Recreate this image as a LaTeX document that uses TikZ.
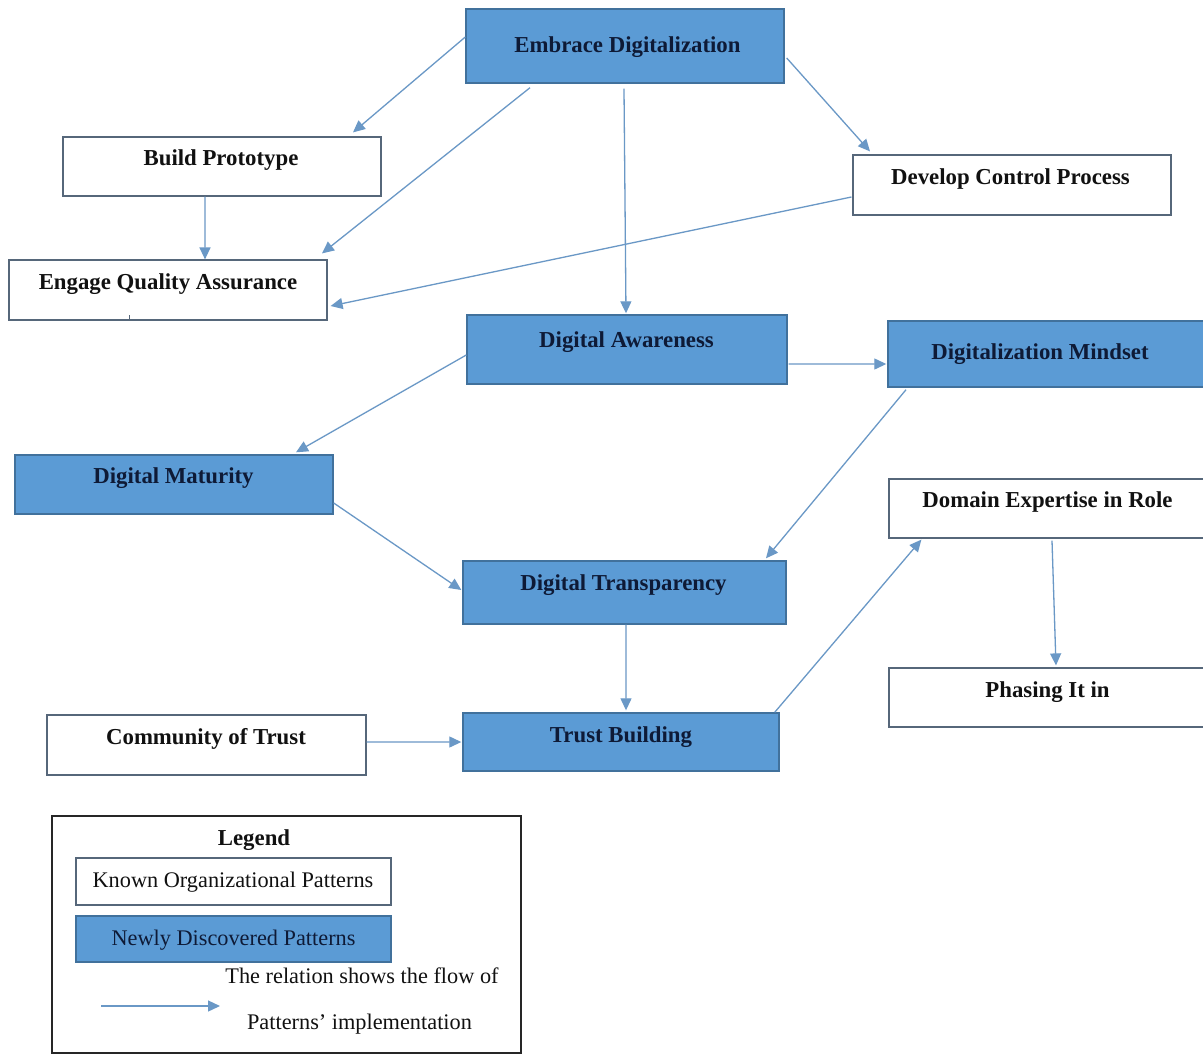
\documentclass[tikz,border=0pt]{standalone}
\usepackage{fontspec}
\setmainfont{Liberation Serif}
\usetikzlibrary{arrows.meta}
\definecolor{nfill}{HTML}{5B9BD5}
\definecolor{nborder}{HTML}{41719C}
\definecolor{kborder}{HTML}{56677A}
\definecolor{arr}{HTML}{6A98C6}
\definecolor{ntext}{HTML}{0E1A36}
\definecolor{ktext}{HTML}{111111}
\tikzset{
  newp/.style={draw=nborder, fill=nfill, line width=1.4bp, inner sep=0pt},
  known/.style={draw=kborder, fill=white, line width=1.2bp, inner sep=0pt},
  btxt/.style={font=\fontsize{22.8bp}{27bp}\selectfont\bfseries, text=ktext, inner sep=0pt, anchor=base},
  ntxt/.style={btxt, text=ntext},
  rtxt/.style={font=\fontsize{22.3bp}{27bp}\selectfont, text=ktext, inner sep=0pt, anchor=base},
  flow/.style={draw=arr, line width=1.3bp, -{Triangle[length=12bp,width=11bp]}},
}
\begin{document}
\begin{tikzpicture}[x=1bp, y=-1bp]
\useasboundingbox (0,0) rectangle (1203,1055);
\clip (0,0) rectangle (1203,1055);
\fill[white] (0,0) rectangle (1203,1055);

% boxes
\node[newp,  minimum width=318bp, minimum height=74bp] (emb)  at (625,46) {};
\node[known, minimum width=318bp, minimum height=59bp] (bp)   at (222,166.5) {};
\node[known, minimum width=318bp, minimum height=60bp] (dcp)  at (1012,185) {};
\node[known, minimum width=318bp, minimum height=60bp] (eqa)  at (168,290) {};
\node[newp,  minimum width=320bp, minimum height=69bp] (da)   at (627,349.5) {};
\node[newp,  minimum width=322bp, minimum height=66bp] (dm)   at (1049,354) {};
\node[newp,  minimum width=318bp, minimum height=59bp] (dmat) at (174,484.5) {};
\node[known, minimum width=321bp, minimum height=59bp] (dex)  at (1049.5,508.5) {};
\node[newp,  minimum width=323bp, minimum height=63bp] (dt)   at (624.5,592.5) {};
\node[known, minimum width=321bp, minimum height=59bp] (pii)  at (1049.5,697.5) {};
\node[known, minimum width=319bp, minimum height=60bp] (cot)  at (206.5,745) {};
\node[newp,  minimum width=316bp, minimum height=58bp] (tb)   at (621,742) {};

% box texts
\node[ntxt] (embT)  at (627.5,52.5)  {Embrace Digitalization};
\node[btxt] (bpT)   at (221,165.5)   {Build Prototype};
\node[btxt] (dcpT)  at (1010.5,184.5){Develop Control Process};
\node[btxt] (eqaT)  at (168,289.5)   {Engage Quality Assurance};
\node[ntxt] (daT)   at (626.5,347.5) {Digital Awareness};
\node[ntxt] (dmT)   at (1040,359.5)  {Digitalization Mindset};
\node[ntxt] (dmatT) at (173.5,483.5) {Digital Maturity};
\node[btxt] (dexT)  at (1047.5,507.5){Domain Expertise in Role};
\node[ntxt] (dtT)   at (623.5,590.5) {Digital Transparency};
\node[btxt] (piiT)  at (1047.5,697.5){Phasing It in};
\node[btxt] (cotT)  at (206,744.5)   {Community of Trust};
\node[ntxt] (tbT)   at (621,742.5)   {Trust Building};

% small stray tick under Engage Quality Assurance
\draw[kborder, line width=1bp] (129,315) -- (129,321);

% connectors
\draw[flow] ([yshift=9bp]emb.west) -- ([xshift=131bp,yshift=4bp]bp.north);
\draw[flow] ([xshift=-95bp,yshift=-4bp]emb.south) -- ([xshift=154bp,yshift=6bp]eqa.north);
\draw[flow] ([xshift=-1bp,yshift=-5bp]emb.south) -- ([xshift=-1bp,yshift=1bp]da.north);
\draw[flow] ([xshift=2bp,yshift=-12bp]emb.east) -- ([xshift=-142bp,yshift=3bp]dcp.north);
\draw[flow] ([xshift=-17bp]bp.south) -- ([xshift=37bp]eqa.north);
\draw[flow] ([xshift=-1bp,yshift=-12bp]dcp.west) -- ([xshift=3bp,yshift=-16bp]eqa.east);
\draw[flow] ([xshift=1bp,yshift=-14.5bp]da.east) -- ([xshift=-1bp,yshift=-10bp]dm.west);
\draw[flow] ([yshift=-5.5bp]da.west) -- ([xshift=122bp,yshift=2bp]dmat.north);
\draw[flow] ([yshift=-18.5bp]dmat.east) -- ([xshift=-1bp,yshift=2.5bp]dt.west);
\draw[flow] ([xshift=-143bp,yshift=-2bp]dm.south) -- ([xshift=141.5bp,yshift=2bp]dt.north);
\draw[flow] ([xshift=1.5bp]dt.south) -- ([xshift=5bp,yshift=2bp]tb.north);
\draw[flow] ([yshift=3bp]cot.east) -- ([xshift=-1bp]tb.west);
\draw[flow] ([xshift=-5bp]tb.north east) -- ([xshift=33bp,yshift=-1bp]dex.south west);
\draw[flow] ([xshift=2.5bp,yshift=-2bp]dex.south) -- ([xshift=6.5bp,yshift=2bp]pii.north);

% legend
\node[draw=black!85, line width=1.2bp, minimum width=469bp, minimum height=237bp, inner sep=0pt] (leg) at (286.5,934.5) {};
\node[btxt] (legT) at (254,845.5) {Legend};
\node[known, minimum width=315bp, minimum height=47bp] (kop) at (233.5,881.5) {};
\node[rtxt] (kopT) at (233,887.5) {Known Organizational Patterns};
\node[newp, minimum width=315bp, minimum height=46bp] (ndp) at (233.5,939) {};
\node[rtxt, text=ntext] (ndpT) at (233.5,945.5) {Newly Discovered Patterns};
\node[rtxt] (rel1) at (362,983.5) {The relation shows the flow of};
\node[rtxt] (rel2) at (359.5,1029.5) {Patterns’ implementation};
\coordinate (la1) at (101,1006);
\coordinate (la2) at (220,1006);
\draw[flow] (la1) -- (la2);
\end{tikzpicture}
\end{document}
